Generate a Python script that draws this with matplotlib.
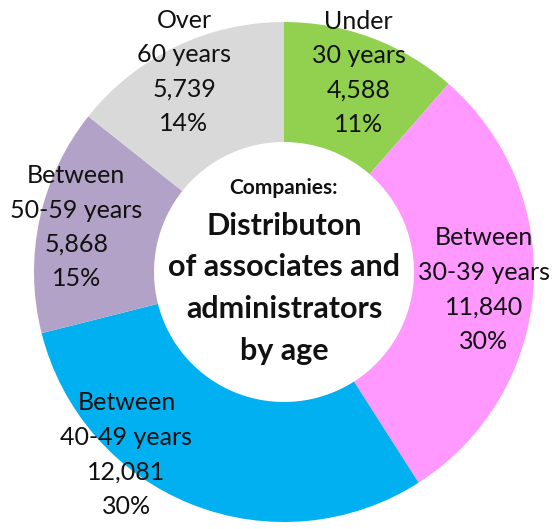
import matplotlib
matplotlib.use('Agg')
import matplotlib.pyplot as plt

# Data
groups = ['Under\n30 years', 'Between\n30-39 years', 'Between\n40-49 years',
          'Between\n50-59 years', 'Over\n60 years']
counts = [4588, 11840, 12081, 5868, 5739]
colors = ['#92D050', '#FF99FF', '#00B0F0', '#B3A2C7', '#D9D9D9']

plt.rcParams['font.family'] = ['Lato', 'DejaVu Sans']

total = sum(counts)
labels = [f'{g}\n{c:,}\n{round(c / total * 100)}%' for g, c in zip(groups, counts)]

fig = plt.figure(figsize=(5.6, 5.29), dpi=100)
ax = fig.add_axes([34 / 560, 7 / 529, 500 / 560, 500 / 529])

wedges, texts = ax.pie(counts, colors=colors, startangle=90, counterclock=False,
                       labels=labels, labeldistance=0.85,
                       wedgeprops=dict(width=0.48, linewidth=0),
                       textprops=dict(fontsize=18, color='#111111',
                                      linespacing=1.6))
for t in texts:
    t.set_horizontalalignment('center')
    t.set_verticalalignment('center')

# nudge a few labels to where the original has them
texts[1].set_position((0.80, -0.07))
texts[2].set_position((-0.63, -0.73))
texts[4].set_position((-0.40, 0.80))

ax.set_xlim(-1, 1)
ax.set_ylim(-1, 1)
ax.set_aspect('equal')

# centre title
ax.text(0, 0.335, 'Companies:', ha='center', va='center', fontsize=15,
        fontweight='bold', color='#111111')
ax.text(0, -0.065, 'Distributon\nof associates and\nadministrators\nby age',
        ha='center', va='center', fontsize=22, fontweight='bold',
        color='#111111', linespacing=1.6)

fig.savefig('out.png', dpi=100)
